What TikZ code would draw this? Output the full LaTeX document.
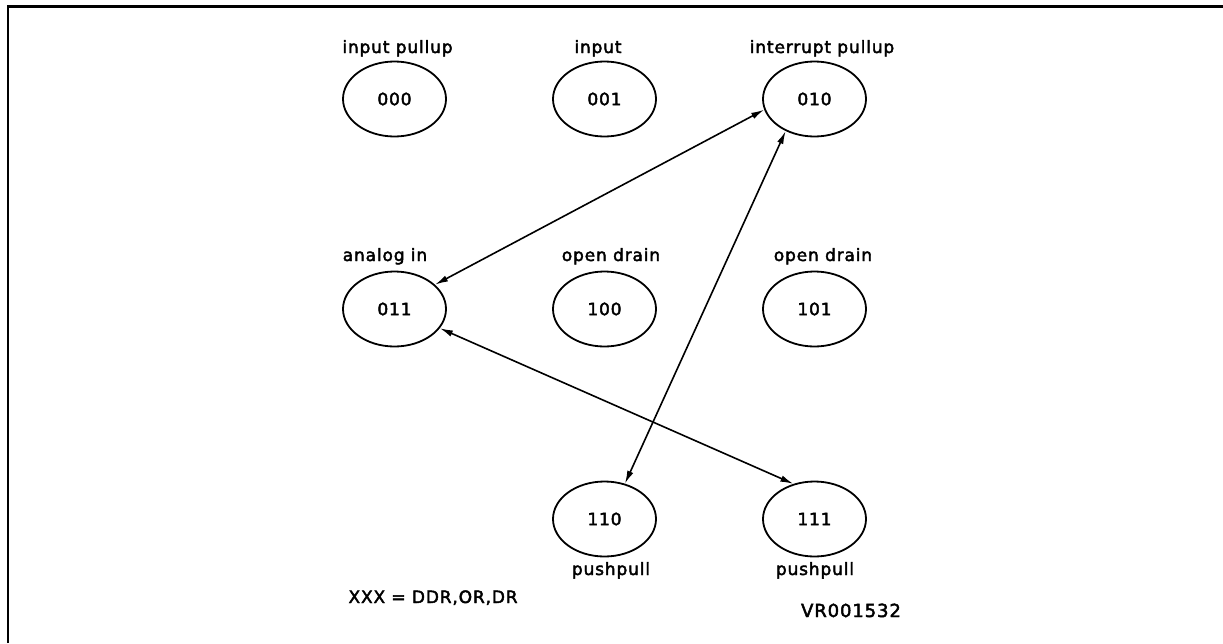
\documentclass[tikz,border=0pt]{standalone}
\usepackage{fontspec}
\setmainfont{DejaVu Sans}[LetterSpace=5, FakeBold=2.5]
\usepackage{tikz}
\usetikzlibrary{shapes.geometric, arrows.meta}
\usepackage{xcolor}
\definecolor{cInk}{RGB}{0,0,0}
\tikzset{
  statenode/.style={ellipse, draw=cInk, line width=1.8pt, minimum width=103pt,
                    minimum height=75pt, inner sep=0pt,
                    font=\fontsize{17}{20}\selectfont},
  modelabel/.style={anchor=base, font=\fontsize{17}{20}\selectfont},
  linkarrow/.style={{Latex[length=13pt,width=6.5pt]}-{Latex[length=13pt,width=6.5pt]},
                    line width=1.6pt, color=cInk},
  framebar/.style={line width=2.6pt, color=cInk}
}

\begin{document}
\begin{tikzpicture}[x=1pt, y=-1pt]
  \useasboundingbox (0,0) rectangle (1223,643);
  % Page frame
  \draw[framebar] (7.8,643) -- (7.8,6.2) -- (1223,6.2);

  % Port states
  \foreach \code/\x/\y in {000/394.5/99, 001/604.5/99, 010/814.5/99,
                           011/394.5/309, 100/604.5/309, 101/814.5/309,
                           110/604.5/519, 111/814.5/519} {
    \node[statenode] (s\code) at (\x,\y) {\code};
  }

  % Mode names
  \node[modelabel] (l000) at (397.5,53) {input pullup};
  \node[modelabel] (l001) at (598,53) {input};
  \node[modelabel] (l010) at (822,53) {interrupt pullup};
  \node[modelabel] (l011) at (385,261) {analog in};
  \node[modelabel] (l100) at (611,261) {open drain};
  \node[modelabel] (l101) at (823,261) {open drain};
  \node[modelabel] (l110) at (611,575) {pushpull};
  \node[modelabel] (l111) at (815,575) {pushpull};

  % Allowed transitions
  \draw[linkarrow] (s011.31) -- (s010.192);
  \draw[linkarrow] (s010.228) -- (s110.60);
  \draw[linkarrow] (s011.337) -- (s111.121);

  % Key and reference
  \node[modelabel, anchor=base west] (key) at (345,603) {XXX = DDR,OR,DR};
  \node[modelabel, font=\fontsize{18}{22}\selectfont] (ref) at (851,617) {VR001532};
\end{tikzpicture}
\end{document}
